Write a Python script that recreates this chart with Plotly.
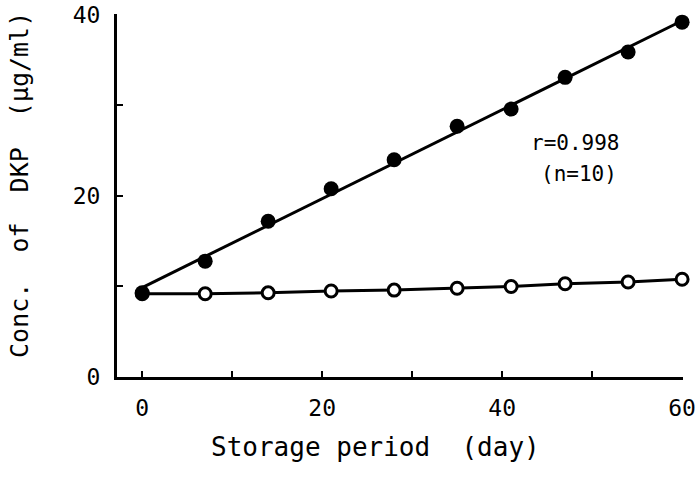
import numpy as np
import plotly.graph_objects as go

# Data
days = [0, 7, 14, 21, 28, 35, 41, 47, 54, 60]
filled_conc = [9.3, 12.8, 17.2, 20.8, 24.0, 27.7, 29.6, 33.1, 35.9, 39.2]
open_conc = [9.2, 9.2, 9.3, 9.5, 9.6, 9.8, 10.0, 10.3, 10.5, 10.8]

x_tickvals = [0, 10, 20, 30, 40, 50, 60]
x_ticktext = ["0", "", "20", "", "40", "", "60"]
y_tickvals = [0, 10, 20, 30, 40]
y_ticktext = ["0", "", "20", "", "40"]

FONT = "DejaVu Sans Mono"

# Regression line from the filled data
slope, intercept = np.polyfit(days, filled_conc, 1)
fit_x = [min(days), max(days)]
fit_y = [slope * v + intercept for v in fit_x]

fig = go.Figure()
fig.add_trace(go.Scatter(x=fit_x, y=fit_y, mode="lines",
                         line=dict(color="black", width=3), showlegend=False,
                         cliponaxis=False))
fig.add_trace(go.Scatter(x=days, y=open_conc, mode="lines+markers",
                         line=dict(color="black", width=3),
                         marker=dict(symbol="circle", size=12, color="white",
                                     line=dict(color="black", width=3)),
                         showlegend=False, cliponaxis=False))
fig.add_trace(go.Scatter(x=days, y=filled_conc, mode="markers",
                         marker=dict(symbol="circle", size=15, color="black"),
                         showlegend=False, cliponaxis=False))

fig.update_layout(
    width=695, height=477,
    margin=dict(l=117, r=12, t=14, b=100),
    paper_bgcolor="white", plot_bgcolor="white",
    font=dict(family=FONT, size=22, color="black"),
    xaxis=dict(range=[-2.8, 60.1], showgrid=False, zeroline=False,
               automargin=False,
               showline=True, linecolor="black", linewidth=3,
               tickmode="array", tickvals=x_tickvals, ticktext=x_ticktext,
               ticks="inside", ticklen=6, tickwidth=2, tickcolor="black",
               ticklabelstandoff=8, ticklabeloverflow="allow",
               tickfont=dict(family=FONT, size=23)),
    yaxis=dict(range=[0, 40.1], showgrid=False, zeroline=False,
               automargin=False,
               showline=True, linecolor="black", linewidth=3,
               tickmode="array", tickvals=y_tickvals, ticktext=y_ticktext,
               ticks="inside", ticklen=6, tickwidth=2, tickcolor="black",
               ticklabelstandoff=9, ticklabeloverflow="allow",
               tickfont=dict(family=FONT, size=23)),
    annotations=[
        dict(text="Storage period  (day)", xref="paper", yref="paper",
             x=(375 - 117) / 566, y=0, yshift=-70, xanchor="center",
             yanchor="middle", showarrow=False,
             font=dict(family=FONT, size=26)),
        dict(text="Conc.  of  DKP  (μg/ml)", xref="paper", yref="paper",
             x=0, y=0.529, xshift=-97, xanchor="center", yanchor="middle",
             textangle=-90, showarrow=False, font=dict(family=FONT, size=25)),
        dict(text="r=0.998", xref="x", yref="y",
             x=48.2, y=25.8, xanchor="center", yanchor="middle",
             showarrow=False, font=dict(family=FONT, size=21)),
        dict(text="(n=10)", xref="x", yref="y",
             x=48.5, y=22.4, xanchor="center", yanchor="middle",
             showarrow=False, font=dict(family=FONT, size=21)),
    ],
)

fig.write_html("out.html")
